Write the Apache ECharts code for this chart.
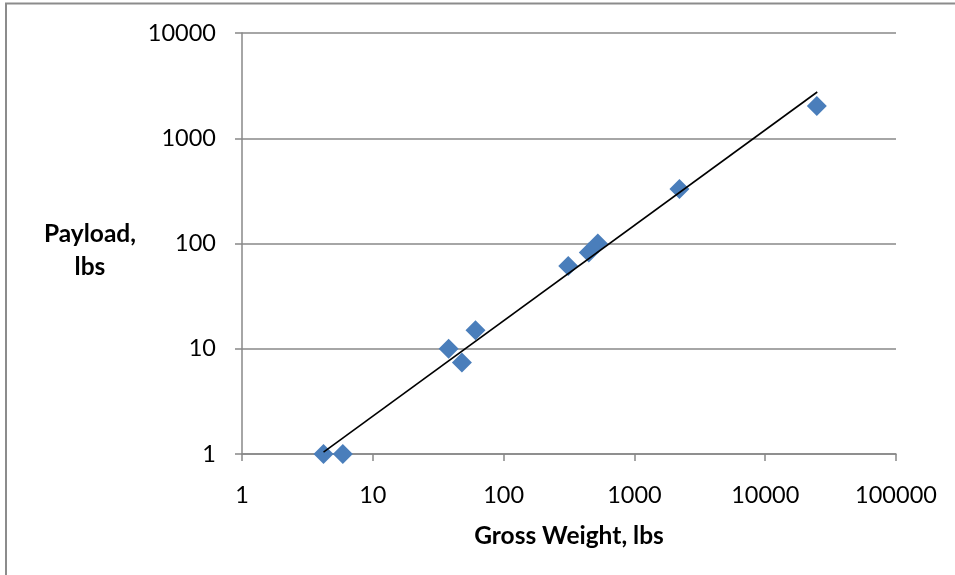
<!DOCTYPE html>
<html>
<head>
<meta charset="utf-8">
<script src="https://cdn.jsdelivr.net/npm/echarts@6/dist/echarts.min.js"></script>
<style>
html,body{margin:0;padding:0;background:#fff;}
#chart{width:955px;height:575px;}
</style>
</head>
<body>
<div id="chart"></div>
<script>
// Data
const grossWeight = [4.2, 5.9, 38, 48, 61, 312, 448, 525, 2210, 24800];
const payload     = [1, 1, 10, 7.4, 15, 61, 82, 100, 330, 2030];
// Trend line end points
const trendX = [4.2, 25000];
const trendY = [1.04, 2750];
// Axis text
const xTitle = 'Gross Weight, lbs';
const yTitleLines = ['Payload,', 'lbs'];

const chart = echarts.init(document.getElementById('chart'), null, {renderer: 'canvas'});
const gray = '#888888';
const fmt = v => String(Math.round(v));

chart.setOption({
  animation: false,
  backgroundColor: '#ffffff',
  grid: {left: 242, right: 59, top: 33, bottom: 121, containLabel: false},
  xAxis: {
    type: 'log', logBase: 10, min: 1, max: 100000,
    name: xTitle, nameLocation: 'middle', nameGap: 70,
    nameTextStyle: {fontFamily: 'Lato', fontWeight: 'bold', fontSize: 24.5, color: '#000'},
    axisLine: {show: true, lineStyle: {color: gray, width: 1.5}},
    axisTick: {show: true, inside: false, length: 7, lineStyle: {color: gray, width: 1.5}},
    minorTick: {show: false},
    splitLine: {show: false},
    axisLabel: {formatter: fmt, fontFamily: 'Lato', fontSize: 23.5, color: '#000', margin: 29}
  },
  yAxis: {
    type: 'log', logBase: 10, min: 1, max: 10000,
    axisLine: {show: true, lineStyle: {color: gray, width: 1.5}},
    axisTick: {show: true, inside: false, length: 7, lineStyle: {color: gray, width: 1.5}},
    splitLine: {show: true, lineStyle: {color: gray, width: 1.5}},
    axisLabel: {formatter: fmt, fontFamily: 'Lato', fontSize: 23.5, color: '#000', margin: 26}
  },
  series: [
    {
      type: 'scatter',
      data: grossWeight.map((x, i) => [x, payload[i]]),
      symbol: 'diamond', symbolSize: 20,
      itemStyle: {color: '#4a7ebb', opacity: 1},
      z: 3
    },
    {
      type: 'line',
      data: trendX.map((x, i) => [x, trendY[i]]),
      showSymbol: false, symbol: 'none',
      lineStyle: {color: '#000', width: 1.6},
      z: 4
    }
  ],
  graphic: [
    {
      type: 'rect', silent: true,
      shape: {x: 6, y: 3.5, width: 1200, height: 1200},
      style: {fill: 'none', stroke: '#8c8c8c', lineWidth: 2}
    },
    {
      type: 'text', silent: true,
      x: 90, y: 234,
      style: {text: yTitleLines[0], font: 'bold 24.5px Lato', fill: '#000', align: 'center', verticalAlign: 'middle'}
    },
    {
      type: 'text', silent: true,
      x: 90, y: 267,
      style: {text: yTitleLines[1], font: 'bold 24.5px Lato', fill: '#000', align: 'center', verticalAlign: 'middle'}
    }
  ]
});
</script>
</body>
</html>
